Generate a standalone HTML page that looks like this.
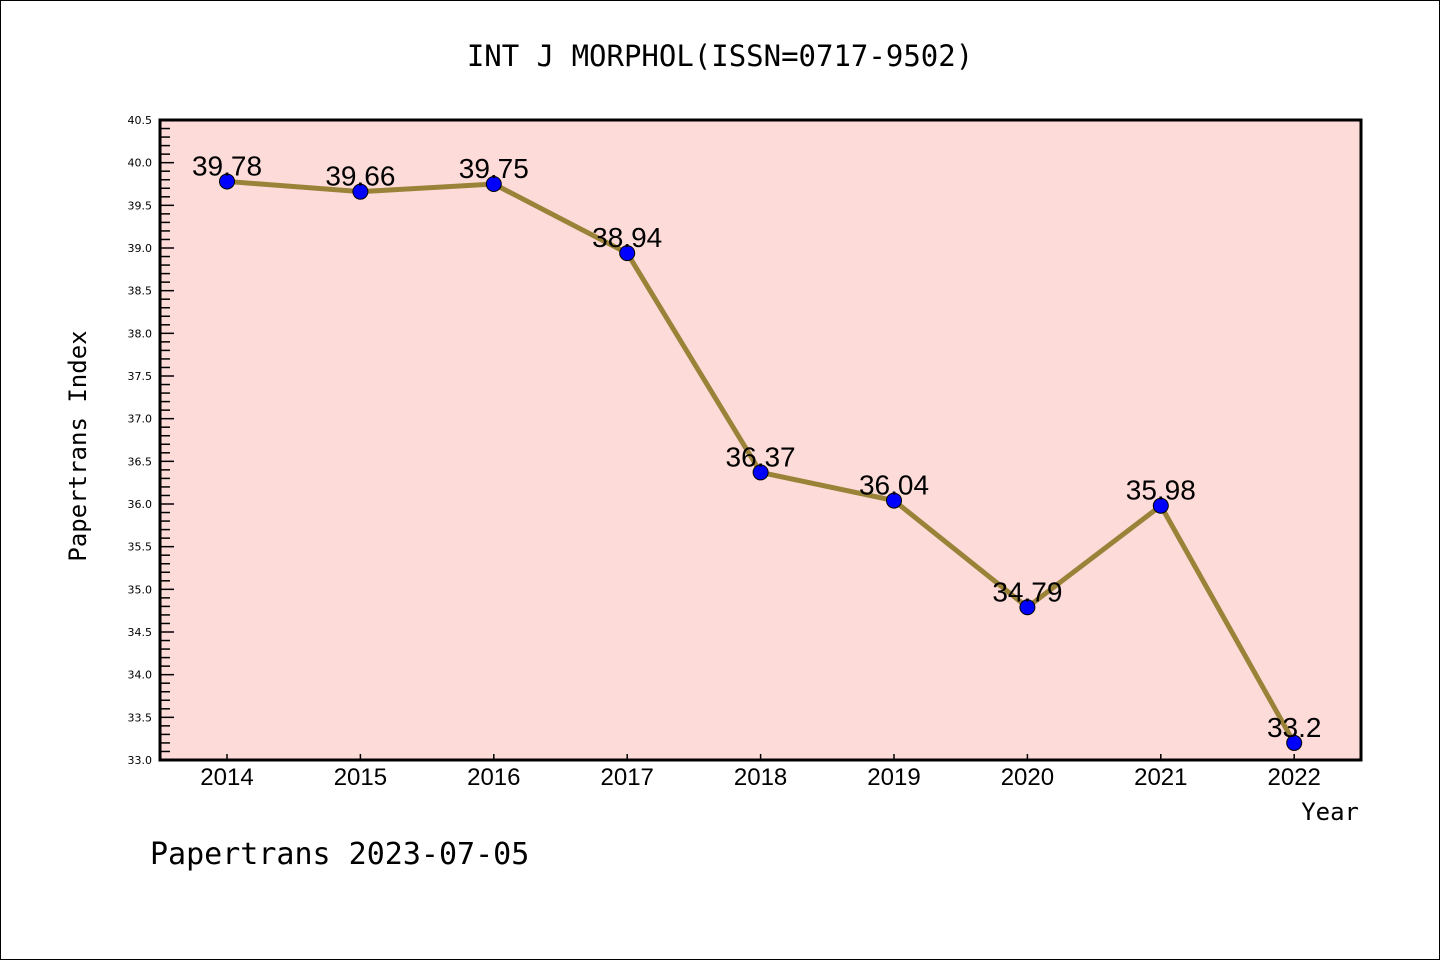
<!DOCTYPE html>
<html><head><meta charset="utf-8"><style>
body{margin:0;background:#fff}
svg{display:block;font-family:"DejaVu Sans Mono","Liberation Mono",monospace}
</style></head><body>
<svg id="c" width="1440" height="960" viewBox="0 0 1440 960">
<rect x="0.5" y="0.5" width="1439" height="959" fill="#fff" stroke="#000"/>
<text x="720" y="66" text-anchor="middle" font-size="29">INT J MORPHOL(ISSN=0717-9502)</text>
<rect x="160" y="120" width="1201" height="640" fill="#fddbd8"/>
<g id="g"></g>
<rect x="160" y="120" width="1201" height="640" fill="none" stroke="#000" stroke-width="3"/>
<text x="86" y="446" text-anchor="middle" font-size="24" transform="rotate(-90 86 446)">Papertrans Index</text>
<text x="1359" y="820" text-anchor="end" font-size="24">Year</text>
<text x="150" y="864" font-size="30">Papertrans 2023-07-05</text>
</svg>
<script>
const years=[2014,2015,2016,2017,2018,2019,2020,2021,2022];
const values=[39.78,39.66,39.75,38.94,36.37,36.04,34.79,35.98,33.2];
const labels=["39.78","39.66","39.75","38.94","36.37","36.04","34.79","35.98","33.2"];
const yMin=33.0,yMax=40.5;
const NS="http://www.w3.org/2000/svg";
const g=document.getElementById('g');
const X=i=>227+i*133.4;
const Y=v=>760-(v-yMin)/(yMax-yMin)*640;
function mk(t,a,txt){const e=document.createElementNS(NS,t);for(const k in a)e.setAttribute(k,a[k]);if(txt!==undefined)e.textContent=txt;g.appendChild(e);return e;}
for(let k=0;k<=75;k++){const v=yMin+k*0.1;const major=k%5===0;
 const t=mk('line',{x1:160,x2:160+(major?14:10),y1:Y(v),y2:Y(v),stroke:'#000','stroke-width':1.5});
 
 
 if(major){const l=mk('text',{x:152,y:Y(v)+4,'text-anchor':'end','font-size':11,'font-family':'DejaVu Sans, sans-serif'},v.toFixed(1));
 
 }}
years.forEach((yr,i)=>{const t=mk('line',{x1:X(i),x2:X(i),y1:760,y2:754,stroke:'#000','stroke-width':1.5});
 
 
 const l=mk('text',{x:X(i),y:785,'text-anchor':'middle','font-size':24,'font-family':'Liberation Sans, sans-serif'},String(yr));
 
 });
const line=mk('polyline',{points:values.map((v,i)=>X(i)+','+Y(v)).join(' '),fill:'none',stroke:'#9a8338','stroke-width':5});


values.forEach((v,i)=>{const c=mk('circle',{cx:X(i),cy:Y(v),r:7.5,fill:'#0000ff',stroke:'#000','stroke-width':1});
 
 
 const l=mk('text',{x:X(i),y:Y(v)-6,'text-anchor':'middle','font-size':28,'font-family':'Liberation Sans, sans-serif'},labels[i]);
 
 });
</script>
</body></html>
